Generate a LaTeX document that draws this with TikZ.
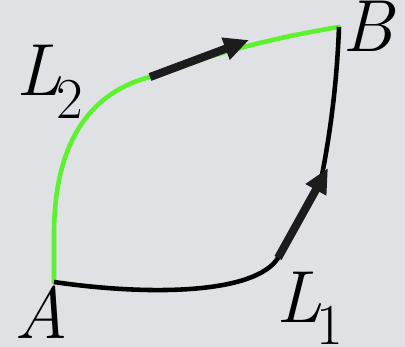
\documentclass[tikz,border=0pt]{standalone}
\usepackage{fontspec}
\usetikzlibrary{arrows.meta}
\definecolor{PBack}{HTML}{DFE1E5}
\definecolor{PGreen}{HTML}{5CF22E}
\definecolor{PInk}{HTML}{1C1C1C}
\newcommand{\subidx}[1]{\kern-3pt\raisebox{-0.3em}{\fontsize{33}{33}\selectfont\upshape #1}}
\tikzset{
  pathgreen/.style={PGreen,line width=2.6pt,line cap=round},
  pathblack/.style={black,line width=2.6pt,line cap=butt},
  dirarrow/.style={PInk,line width=4.6pt,
                   -{Triangle[length=0.5cm,width=0.44cm]}},
  ptlabel/.style={font=\fontsize{42}{42}\selectfont\itshape,inner sep=0pt,anchor=base west},
}
\begin{document}
\begin{tikzpicture}[x=0.02cm,y=-0.02cm]
    % --- background ---
    \fill[PBack] (0,0) rectangle (405,347);
    \useasboundingbox (0,0) rectangle (405,347);

    % --- end points ---
    \coordinate (A) at (54,282);
    \coordinate (B) at (339,27);

    % --- L2, upper path ---
    \coordinate (g1) at (150,77);
    \draw[pathgreen] (A) -- (54,235) .. controls (54,130) and (100,90) .. (g1)
      .. controls (200,58) and (260,40) .. (B);
    \draw[dirarrow] (g1) -- (249,40);

    % --- L1, lower path ---
    \coordinate (k1) at (278,258);
    \coordinate (k2) at (321,180);
    \draw[pathblack] (A) .. controls (150,296) and (255,294) .. (k1) -- (k2)
      .. controls (331,130) and (337,80) .. (B);
    \draw[dirarrow] (k1) -- (328,168);

    % --- labels ---
    \node[ptlabel] (labA) at (14,338) {A};
    \node[ptlabel] (labB) at (342,52) {B};
    \node[ptlabel] (labL2) at (16,96) {L\subidx{2}};
    \node[ptlabel] (labL1) at (276,322) {L\subidx{1}};
\end{tikzpicture}
\end{document}
